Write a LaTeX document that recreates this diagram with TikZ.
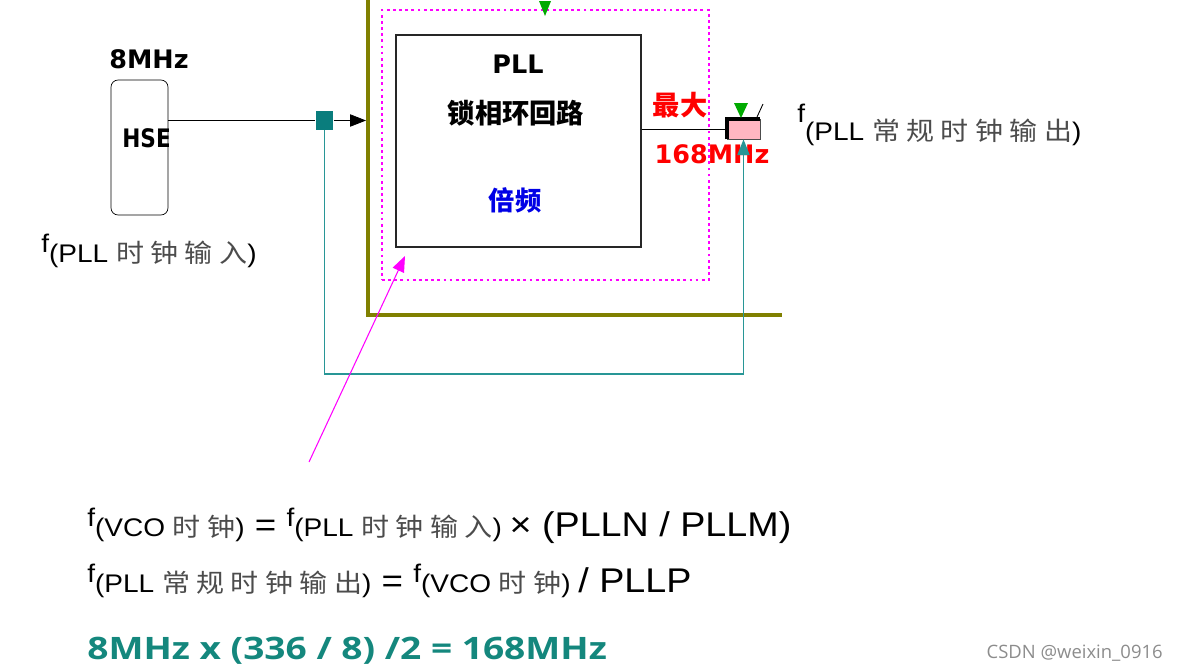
\documentclass[tikz,border=0pt]{standalone}
\usepackage{fontspec}
\usepackage{tikz}
\usetikzlibrary{arrows.meta,positioning}
\setmainfont{Liberation Sans}[FakeStretch=1.1]
\newfontfamily\cjk{Noto Sans CJK SC}[FakeStretch=1.1, LetterSpace=25]
\newfontfamily\cjkb{Noto Sans CJK SC}
\newfontfamily\boxfont{DejaVu Sans}
\newfontfamily\hsefont{DejaVu Sans}[FakeStretch=0.85]
\newfontfamily\resfont{Open Sans}[FakeStretch=1.2]
\newfontfamily\wmfont{Open Sans}

\definecolor{splitteal}{RGB}{10,125,125}
\definecolor{fbteal}{RGB}{40,150,150}
\definecolor{resteal}{RGB}{20,135,125}
\definecolor{olivefr}{RGB}{128,128,0}
\definecolor{zonemag}{RGB}{255,0,255}
\definecolor{maxred}{RGB}{255,0,0}
\definecolor{mulblue}{RGB}{0,0,230}
\definecolor{pinkfill}{RGB}{255,182,193}
\definecolor{mkgreen}{RGB}{0,170,0}

\newcommand{\fsz}[1]{\fontsize{#1}{#1}\selectfont}
\newcommand{\zh}[1]{{\cjk\color{black!70}#1}}
\newcommand{\fsub}[2][5.5pt]{\raisebox{#1}{f}#2}
\newcommand{\eqsign}{{\fsz{19} = }}

\begin{document}
\begin{tikzpicture}[x=0.02cm, y=-0.02cm, font=\fsz{14.5},
    hsebox/.style={draw, rounded corners=4pt, minimum width=1.14cm, minimum height=2.7cm, inner sep=0pt},
    splitbox/.style={fill=splitteal, minimum width=0.35cm, minimum height=0.38cm, inner sep=0pt},
    pllbox/.style={draw=black!85, line width=0.8pt, minimum width=4.9cm, minimum height=4.24cm, inner sep=0pt},
    vcozone/.style={draw=zonemag, line width=1.6pt, dash pattern=on 1.6pt off 1.9pt, minimum width=6.54cm, minimum height=5.4cm, inner sep=0pt},
    pinkbox/.style={fill=pinkfill, draw=black!70, minimum width=0.66cm, minimum height=0.4cm, inner sep=0pt},
    tealline/.style={draw=fbteal, line width=0.8pt},
    magarrow/.style={draw=zonemag, line width=0.6pt, -{Triangle[length=9pt,width=7pt]}},
    boxlbl/.style={font=\boxfont\bfseries\fsz{14.5}},
    lbl/.style={anchor=base west, inner sep=0pt}]
    \useasboundingbox (0,0) rectangle (1177,670);

    % HSE
    \node[anchor=base, boxlbl] (hsef) at (149,68) {8MHz};
    \node[hsebox] (hse) at (139.5,147.5) {};
    \begin{scope}
      \clip (111,80) rectangle (168,215);
      \node[lbl, font=\hsefont\bfseries\fsz{14.5}] (hsetxt) at (122,147) {HSE};
    \end{scope}
    \node[splitbox] (split) at (324.5,120.5) {};
    \coordinate (pllin) at (366,120.5);

    % Rahmen
    \draw[line width=2.3pt, olivefr] (368,0) -- (368,315) -- (782,315);

    % PLL
    \node[vcozone] (vco) at (545.5,145) {};
    \node[pllbox, fill=white] (pll) at (518.5,141) {};
    \node[anchor=base, boxlbl] (plltxt) at (518,73) {PLL};
    \node[font=\cjkb\bfseries\fsz{15.5}] (pllzh) at (516,113) {锁相环回路};
    \node[font=\cjkb\bfseries\fsz{15}, text=mulblue] (mul) at (515,200) {倍频};
    \node[font=\cjkb\bfseries\fsz{15.5}, text=maxred] (maxzh) at (680,105) {最大};
    \node[anchor=base, boxlbl, text=maxred] (maxf) at (712,163) {168MHz};

    \node[pinkbox] (pink) at (743.5,129) {};
    \draw[line width=2.2pt] (pink.south west) -- (pink.north west) -- (pink.north east);
    \draw[line width=0.5pt] (757,117) -- (763,104);
    \fill[mkgreen] (545,16) -- (539,1) -- (551,1) -- cycle;
    \fill[mkgreen] (741,118) -- (734,103) -- (748,103) -- cycle;

    % Verbindungen
    \draw (hse.east |- split) -- (split);
    \draw[-{Triangle[length=9pt,width=7pt]}] (split) -- (pllin);
    \draw (pll.east |- pink) -- (pink);
    \coordinate (fbbot) at (530,374);
    \draw[tealline, -{Triangle[length=9pt,width=7pt]}] (split) |- (fbbot) -| (pink);
    \coordinate (callout) at (309,462);
    \coordinate (zonecorner) at (405,256);
    \draw[magarrow] (callout) -- (zonecorner);

    % Beschriftung
    \node[lbl] (fout) at (797,140) {\fsub[10pt]{(PLL \zh{常规时钟输出})}};
    \node[lbl] (fin) at (41,262) {\fsub{(PLL \zh{时钟输入})}};

    % Formeln
    \node[lbl] (eqvco) at (87,536) {\fsub{(VCO \zh{时钟})}\eqsign\fsub{(PLL \zh{时钟输入})} {\fsz{19.5}× (PLLN / PLLM)}};
    \node[lbl] (eqout) at (87,592) {\fsub{(PLL \zh{常规时钟输出})}\eqsign\fsub{(VCO \zh{时钟})} {\fsz{19.5}/ PLLP}};
    \node[lbl, text=resteal, font=\resfont\bfseries\fsz{17.6}] (eqnum) at (87,659) {8MHz x (336 / 8) /2 = 168MHz};

    \node[anchor=base east, inner sep=0pt, text=black!45, font=\wmfont\fsz{10.5}] (wm) at (1163,658) {CSDN @weixin\_0916};
\end{tikzpicture}
\end{document}
